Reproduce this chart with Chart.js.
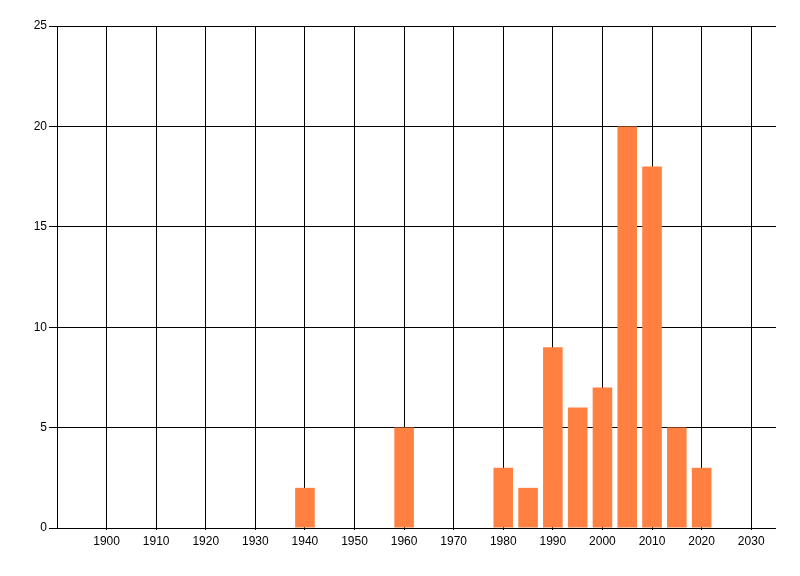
<!DOCTYPE html>
<html><head><meta charset="utf-8">
<script src="https://cdn.jsdelivr.net/npm/chart.js@4"></script>
<style>html,body{margin:0;padding:0;background:#fff}#wrap{width:800px;height:576px}</style>
</head><body><div id="wrap"><canvas id="c"></canvas></div>
<script>
const years = [1940, 1960, 1980, 1985, 1990, 1995, 2000, 2005, 2010, 2015, 2020];
const counts = [2, 5, 3, 2, 9, 6, 7, 20, 18, 5, 3];
const xTicks = [1900, 1910, 1920, 1930, 1940, 1950, 1960, 1970, 1980, 1990, 2000, 2010, 2020, 2030];
const yTicks = [0, 5, 10, 15, 20, 25];

new Chart(document.getElementById('c'), {
  type: 'bar',
  data: {
    datasets: [{
      data: years.map((y, i) => ({x: y, y: counts[i]})),
      backgroundColor: 'rgb(255,128,64)',
      borderWidth: 0,
      barPercentage: 0.79,
      categoryPercentage: 1.0
    }]
  },
  options: {
    responsive: true,
    maintainAspectRatio: false,
    animation: false,
    layout: {padding: {top: 26, right: 24, bottom: 0, left: 0}},
    plugins: {legend: {display: false}, tooltip: {enabled: false}},
    scales: {
      x: {
        type: 'linear', min: 1890, max: 2035, offset: false,
        afterBuildTicks: s => { s.ticks = xTicks.map(v => ({value: v})); },
        afterFit: s => { s.height = 48; },
        grid: {
          color: ctx => (ctx.tick && xTicks.includes(ctx.tick.value)) ? '#000000' : 'rgba(0,0,0,0)',
          lineWidth: 1, drawTicks: true, tickLength: 2, offset: false
        },
        border: {display: false},
        ticks: {color: '#000', font: {family: 'Liberation Sans', size: 12}, padding: 4, maxRotation: 0, autoSkip: false,
                callback: v => String(v)}
      },
      y: {
        min: 0, max: 25,
        afterBuildTicks: s => { s.ticks = yTicks.map(v => ({value: v})); },
        afterFit: s => { s.width = 57; },
        grid: {color: '#000000', lineWidth: 1, drawTicks: true, tickLength: 8},
        border: {display: true, color: '#000', width: 1},
        ticks: {color: '#000', font: {family: 'Liberation Sans', size: 12}, padding: 2, callback: v => String(v)}
      }
    }
  }
});
</script></body></html>
